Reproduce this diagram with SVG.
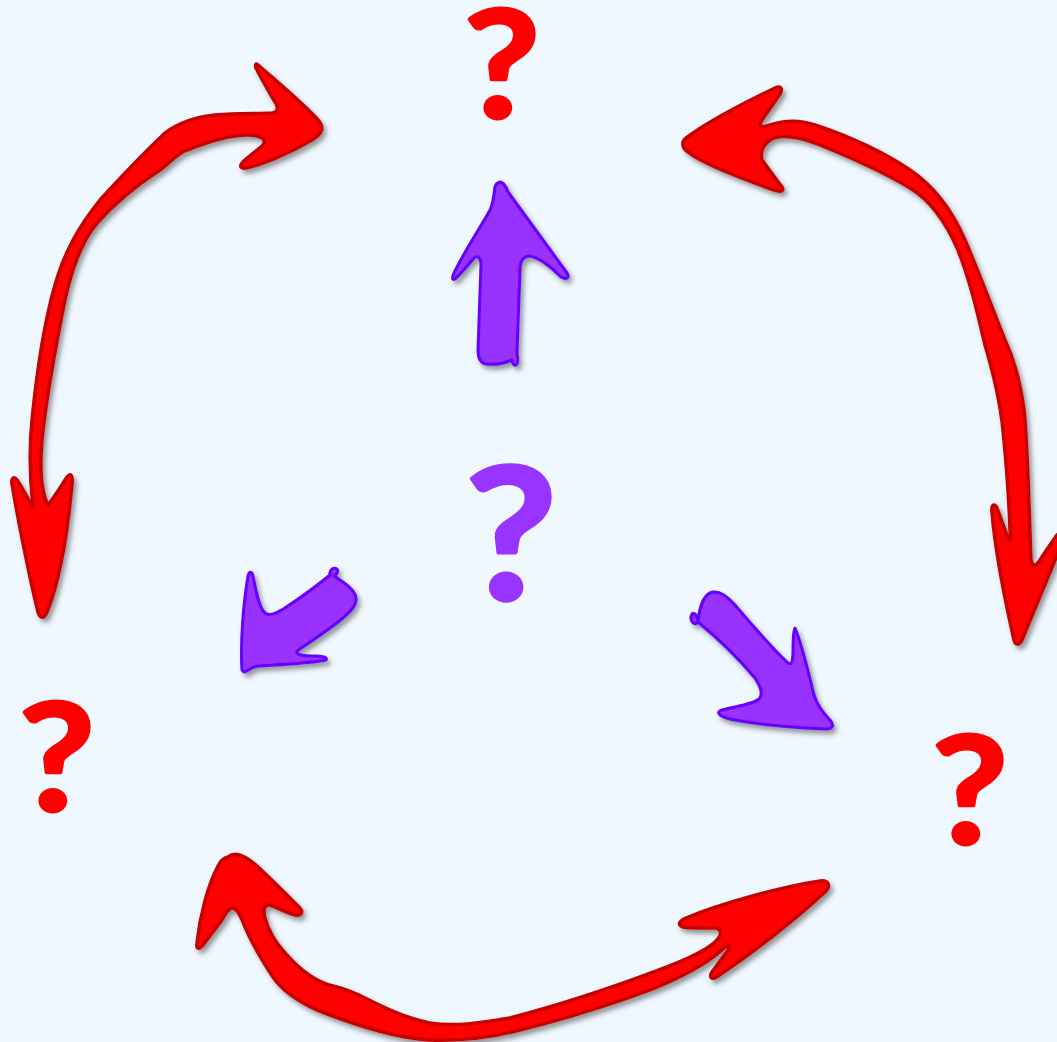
<svg xmlns="http://www.w3.org/2000/svg" width="1057" height="1042" viewBox="0 0 1057 1042">
<defs>
<filter id="sh" x="-20%" y="-20%" width="140%" height="140%">
<feDropShadow dx="3" dy="4" stdDeviation="2.5" flood-color="#4a4a4a" flood-opacity="0.55"/>
</filter>
<style>
.red{fill:#ff0000;stroke:#c80000;stroke-width:3.5;stroke-linejoin:round;filter:url(#sh)}
.pur{fill:#9933ff;stroke:#6600ff;stroke-width:3;stroke-linejoin:round;filter:url(#sh)}
.q{font-family:Lato,"Open Sans",sans-serif;font-weight:bold;text-anchor:middle;stroke-linejoin:round}
.qr{fill:#ff0000;stroke:#ff0000;stroke-width:3;font-size:150px}
.qp{fill:#9933ff;stroke:#9933ff;stroke-width:3.5;font-size:184px}
</style>
</defs>
<rect width="1057" height="1042" fill="#f0f8ff"/>
<g id="connectors">
<path id="arrow-top-left" class="red" d="M258,65 C275,80 305,105 318,120 C325,128 322,134 312,140 C290,153 262,165 246,168 C238,169 240,164 246,159 L262,146 C268,140 262,135 247,135 C230,135 205,143 187,150 C175,155 170,163 160,170 C140,183 115,203 98,222 C82,240 72,268 65,300 C55,350 46,400 42,440 C40,465 40,490 48,505 C52,500 62,485 67,477 C71,472 73,476 72,484 C67,540 58,585 47,612 C44,619 40,619 38,612 C30,580 18,520 12,484 C11,478 14,476 17,480 C24,490 28,500 33,507 C30,480 29,450 32,420 C37,370 45,320 55,285 C65,250 80,225 100,200 C120,178 145,152 165,133 C180,122 195,117 215,115 C240,113 260,114 272,113 C279,112 278,106 275,102 C268,90 262,80 256,68 C255,64 256,63 258,65 Z"/>
<path id="arrow-top-right" class="red" d="M686,138 C710,120 750,100 775,88 C781,85 783,89 780,94 L762,120 C758,127 762,128 770,125 C785,120 800,120 815,125 C845,135 880,150 910,170 C935,187 952,210 965,240 C980,275 993,310 1005,340 C1015,362 1022,385 1025,420 C1028,460 1029,510 1031,560 C1033,568 1036,566 1040,560 C1045,552 1050,545 1057,535 C1060,532 1064,540 1060,548 C1045,585 1030,620 1022,640 C1019,646 1015,645 1014,640 C1005,600 995,550 992,512 C991,504 995,503 997,508 L1008,538 C1011,543 1011,540 1010,530 C1009,500 1006,460 1003,430 C1000,400 993,372 985,345 C978,315 970,280 958,250 C945,220 930,200 910,188 C880,170 845,155 815,143 C795,136 780,134 770,140 C763,145 760,152 762,160 C768,168 775,178 782,187 C785,192 779,192 774,190 C740,178 700,162 688,152 C682,148 681,142 686,138 Z"/>
<path id="arrow-bottom" class="red" d="M228,857 C236,850 248,858 258,867 C272,880 290,898 300,908 C304,913 300,916 295,915 C285,912 276,907 270,905 C264,904 263,910 265,918 C268,930 275,942 285,953 C298,968 315,982 333,986 C345,989 355,993 365,998 C385,1008 405,1018 430,1023 C455,1027 480,1023 510,1018 C560,1005 620,985 667,967 C690,958 710,948 717,940 C722,934 722,929 715,928 C700,928 688,928 683,927 C677,925 679,921 686,918 C720,904 780,887 820,881 C829,880 831,886 825,892 C795,920 750,955 718,976 C711,981 709,977 712,972 L728,950 C731,944 728,944 722,950 C705,965 680,978 650,990 C610,1005 560,1020 520,1030 C490,1038 460,1041 430,1040 C395,1038 355,1025 317,1010 C295,1000 282,990 273,977 C263,962 252,943 245,927 C241,917 238,910 233,908 C228,908 225,914 222,920 L203,945 C199,950 196,949 197,943 C200,915 208,885 218,866 C221,860 224,858 228,857 Z"/>
<path id="arrow-up" class="pur" d="M498,183 C502,180 506,186 508,192 C525,215 550,250 567,273 C570,278 566,280 561,277 C552,268 540,258 530,256 C522,256 520,262 520,270 C519,300 518,330 517,352 C517,357 519,360 517,364 C515,367 512,364 512,360 C505,363 495,365 486,364 C480,363 478,358 478,350 C479,320 480,290 481,265 C481,258 478,255 474,258 C468,265 460,275 455,279 C452,281 452,277 454,273 C465,250 482,225 490,210 C494,202 494,192 495,187 C496,184 497,183 498,183 Z"/>
<path id="arrow-down-left" class="pur" d="M242,670 C240,640 244,600 248,576 C249,571 252,571 253,576 C256,590 258,605 264,612 C268,617 275,614 285,608 C300,598 318,585 330,575 C329,570 333,567 337,569 C339,572 336,575 334,576 C345,583 355,590 356,598 C357,606 348,614 338,622 C320,636 305,645 297,651 C296,655 303,656 315,656 C322,656 328,657 326,660 C305,664 270,665 258,666 C250,667 247,672 244,672 Z"/>
<path id="arrow-down-right" class="pur" d="M698,620 C700,605 705,593 713,592 C720,591 728,597 735,605 C752,625 772,648 788,663 C792,666 793,660 793,650 C793,640 793,632 795,628 C800,640 808,670 814,695 C818,708 825,715 830,720 C835,726 832,729 826,729 C800,728 760,725 730,719 C718,716 716,712 722,710 C738,706 755,704 760,698 C763,692 760,686 755,678 C740,660 720,640 698,622 C694,627 689,620 692,614 C694,612 697,615 698,620 Z"/>
</g>
<g id="q-top"><text class="q qr" transform="translate(502,118) scale(1.12,1)">?</text></g>
<g id="q-left"><text class="q qr" transform="translate(57,811) scale(1.12,1)">?</text></g>
<g id="q-right"><text class="q qr" transform="translate(970,844) scale(1.12,1)">?</text></g>
<g id="q-center"><text class="q qp" transform="translate(511,600) scale(1.1,1)">?</text></g>
</svg>
